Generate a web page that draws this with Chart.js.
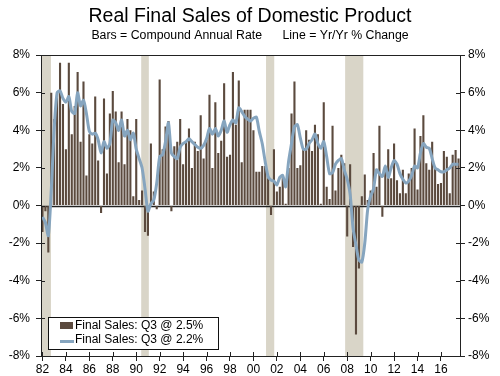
<!DOCTYPE html>
<html>
<head>
<meta charset="utf-8">
<script src="https://cdn.jsdelivr.net/npm/chart.js@4.4.0/dist/chart.umd.min.js"></script>
<style>
  html, body { margin: 0; padding: 0; background: #fff; }
  #wrap { width: 500px; height: 376px; position: relative; }
</style>
</head>
<body>
<div id="wrap"><canvas id="salesChart"></canvas></div>
<script>
// quarters 1982 Q1 .. 2017 Q3
const quarters = [];
for (let yr = 1982; yr <= 2017; yr++) {
  for (let q = 1; q <= 4; q++) {
    if (yr === 2017 && q > 3) break;
    quarters.push(yr + ' Q' + q);
  }
}

// Bars: compound annual rate
const salesSAAR = [
  -1.4, -0.3, -2.5, 6.0, 4.6, 6.0, 7.6, 5.4, 3.0, 7.6,
  3.8, 5.3, 7.1, 3.4, 6.6, 1.6, 3.8, 3.3, 5.8, 2.4,
  -0.4, 5.7, 1.7, 4.9, 6.1, 5.0, 2.3, 5.0, 2.2, 4.6,
  4.0, 0.5, 4.6, 0.3, 0.8, -1.4, -1.6, 3.3, 0.75, -0.2,
  6.7, 3.0, 4.2, 4.5, -0.3, 3.15, 3.4, 4.6, 2.2, 3.4,
  4.1, 2.0, 3.4, 2.9, 4.8, 2.5, 3.5, 5.9, 2.0, 5.5,
  2.8, 3.45, 6.5, 2.6, 2.7, 7.1, 4.3, 6.65, 2.3, 5.1,
  5.1, 5.1, 4.0, 1.8, 1.8, 2.1, 2.1, 1.45, -0.5, 3.0,
  0.75, 1.0, 1.55, 0.1, 2.0, 4.9, 6.6, 2.0, 2.15, 3.0,
  4.0, 3.5, 2.9, 4.3, 3.8, 0.1, 5.5, 1.0, 0.35, 4.25,
  0.8, 2.0, 2.7, 2.25, -1.65, 2.2, -2.2, -6.85, -3.35, 0.5,
  1.65, 0.3, 0.8, 2.8, 1.0, 4.25, -0.6, 1.9, 3.0, 1.45,
  3.3, 1.35, 0.65, 1.9, 0.65, 1.7, 2.0, 4.1, 0.85, 3.7,
  4.8, 2.25, 1.9, 3.4, 2.0, 1.15, 1.2, 2.9, 2.6, 0.65,
  2.7, 2.95, 2.5
];

// Line: year over year % change
const salesYoY = [
  -0.6, -0.9, -1.6, 0.8, 4.1, 6.0, 6.1, 5.7, 5.5, 5.8,
  5.0, 4.9, 6.0, 5.3, 5.6, 4.9, 3.95, 3.8, 3.85, 3.5,
  2.8, 3.4, 3.05, 3.3, 4.55, 4.4, 4.0, 4.55, 3.7, 4.0,
  3.5, 3.85, 3.0, 2.5, 2.0, 0.9, -0.3, 0.1, 0.3, 1.2,
  2.6, 2.7, 3.4, 4.4, 2.8, 2.6, 2.5, 3.1, 3.3, 3.4,
  3.55, 3.4, 3.25, 3.1, 3.05, 3.2, 3.55, 4.1, 3.8, 4.1,
  3.7, 4.0, 4.5, 3.9, 4.3, 4.55, 4.4, 5.2, 5.0, 4.75,
  4.6, 4.5, 4.65, 4.7, 3.95, 3.3, 2.35, 1.55, 1.35, 1.3,
  1.1, 1.5, 1.6, 1.0, 2.35, 3.3, 4.2, 4.3, 3.6, 3.0,
  3.0, 3.3, 3.5, 3.8, 3.3, 3.05, 3.4, 2.6, 1.7, 1.75,
  2.2, 2.4, 2.5, 1.9, 1.4, 0.6, -1.2, -2.1, -2.9, -3.0,
  -2.0, -0.2, 0.5, 0.9, 1.9, 1.7, 1.55, 2.1, 1.5, 2.0,
  2.4, 2.2, 1.7, 1.4, 1.2, 1.3, 1.6, 2.1, 2.0, 2.8,
  3.3, 3.1, 3.05, 2.5, 2.0, 1.9, 1.8, 1.8, 1.9, 2.0,
  2.2, 2.2, 2.2
];

// recessions in decimal years
const recessions = [[1981.5, 1982.85], [1990.55, 1991.2], [2001.2, 2001.9], [2007.95, 2009.5]];

const FONT = 'Liberation Sans, Arial, sans-serif';
const BAR_COLOR = '#5b4a3e';
const LINE_COLOR = '#86a5bf';

// shading, frame, inner ticks, legend
const extras = {
  id: 'extras',
  beforeDatasetsDraw(chart) {
    const { ctx, chartArea: a, scales } = chart;
    ctx.save();
    ctx.fillStyle = '#d9d5c8';
    recessions.forEach(([s, e]) => {
      let x1 = scales.x.getPixelForValue((s - 1982) * 4 - 0.5);
      let x2 = scales.x.getPixelForValue((e - 1982) * 4 - 0.5);
      x1 = Math.max(x1, a.left);
      x2 = Math.min(x2, a.right);
      ctx.fillRect(x1, a.top, x2 - x1, a.bottom - a.top);
    });
    // zero line
    const y0 = Math.round(scales.y.getPixelForValue(0)) + 0.5;
    ctx.strokeStyle = '#222';
    ctx.lineWidth = 1.5;
    ctx.beginPath();
    ctx.moveTo(a.left, y0);
    ctx.lineTo(a.right, y0);
    ctx.stroke();
    ctx.restore();
  },
  afterDraw(chart) {
    const { ctx, chartArea: a, scales } = chart;
    ctx.save();
    ctx.strokeStyle = '#222';
    ctx.lineWidth = 1;
    ctx.strokeRect(Math.round(a.left) + 0.5, Math.round(a.top) + 0.5,
      Math.round(a.right - a.left), Math.round(a.bottom - a.top));
    ctx.beginPath();
    scales.y.ticks.forEach((t, i) => {
      const y = Math.round(scales.y.getPixelForTick(i)) + 0.5;
      ctx.moveTo(a.left, y); ctx.lineTo(a.left + 4, y);
      ctx.moveTo(a.right - 4, y); ctx.lineTo(a.right, y);
    });
    scales.x.ticks.forEach((t, i) => {
      const x = Math.round(scales.x.getPixelForTick(i)) + 0.5;
      ctx.moveTo(x, a.bottom - 4); ctx.lineTo(x, a.bottom);
    });
    ctx.stroke();

    // legend box
    const bx = a.left + 7, by = a.bottom - 39, bw = 170, bh = 32;
    ctx.fillStyle = '#fff';
    ctx.fillRect(bx, by, bw, bh);
    ctx.strokeStyle = '#111';
    ctx.strokeRect(bx + 0.5, by + 0.5, bw, bh);
    ctx.font = '12px ' + FONT;
    ctx.textBaseline = 'middle';
    ctx.fillStyle = BAR_COLOR;
    ctx.fillRect(bx + 12, by + 5, 13, 7);
    ctx.strokeStyle = LINE_COLOR;
    ctx.lineWidth = 3;
    ctx.beginPath();
    ctx.moveTo(bx + 12, by + 24.5); ctx.lineTo(bx + 26, by + 24.5);
    ctx.stroke();
    ctx.fillStyle = '#000';
    ctx.fillText(chart.data.datasets[1].label, bx + 27, by + 9);
    ctx.fillText(chart.data.datasets[0].label, bx + 27, by + 23);
    ctx.restore();
  }
};

const yTicks = {
  stepSize: 2,
  color: '#000',
  font: { family: FONT, size: 12 },
  callback: v => v + '%'
};

new Chart(document.getElementById('salesChart'), {
  data: {
    labels: quarters,
    datasets: [{
      type: 'line',
      label: 'Final Sales: Q3 @ 2.2%',
      data: salesYoY,
      borderColor: LINE_COLOR,
      borderWidth: 3,
      pointRadius: 0,
      tension: 0.25,
      order: 0
    }, {
      type: 'bar',
      label: 'Final Sales: Q3 @ 2.5%',
      data: salesSAAR,
      backgroundColor: BAR_COLOR,
      barPercentage: 0.72,
      categoryPercentage: 1,
      order: 1
    }]
  },
  options: {
    responsive: true,
    maintainAspectRatio: false,
    animation: false,
    layout: { padding: 0 },
    plugins: {
      legend: { display: false },
      tooltip: { enabled: false },
      title: {
        display: true,
        text: 'Real Final Sales of Domestic Product',
        color: '#000',
        font: { family: FONT, size: 19.5, weight: 'normal' },
        padding: { top: 5, bottom: 0 }
      },
      subtitle: {
        display: true,
        text: 'Bars = Compound Annual Rate      Line = Yr/Yr % Change',
        color: '#000',
        font: { family: FONT, size: 12.3 },
        padding: { top: 0, bottom: 12 }
      }
    },
    scales: {
      x: {
        type: 'category',
        offset: true,
        border: { display: false },
        grid: { offset: false, drawOnChartArea: false, tickLength: 5, tickColor: '#222' },
        ticks: {
          autoSkip: false,
          maxRotation: 0,
          padding: 1,
          color: '#000',
          font: { family: FONT, size: 12 },
          callback: function(value) { return this.getLabelForValue(value).slice(2, 4); }
        },
        afterBuildTicks: s => { s.ticks = s.ticks.filter(t => t.value % 8 === 0); },
        afterFit: s => { s.height = 20; }
      },
      y: {
        position: 'left',
        min: -8, max: 8,
        border: { display: false },
        grid: {
          color: 'rgba(0,0,0,0)',
          tickColor: '#222',
          tickLength: 5
        },
        ticks: Object.assign({ padding: 6 }, yTicks),
        afterFit: s => { s.width = 41; }
      },
      y2: {
        position: 'right',
        min: -8, max: 8,
        border: { display: false },
        grid: { drawOnChartArea: false, tickColor: '#222', tickLength: 5 },
        ticks: Object.assign({ padding: 3 }, yTicks),
        afterFit: s => { s.width = 40; }
      }
    }
  },
  plugins: [extras]
});
</script>
</body>
</html>
